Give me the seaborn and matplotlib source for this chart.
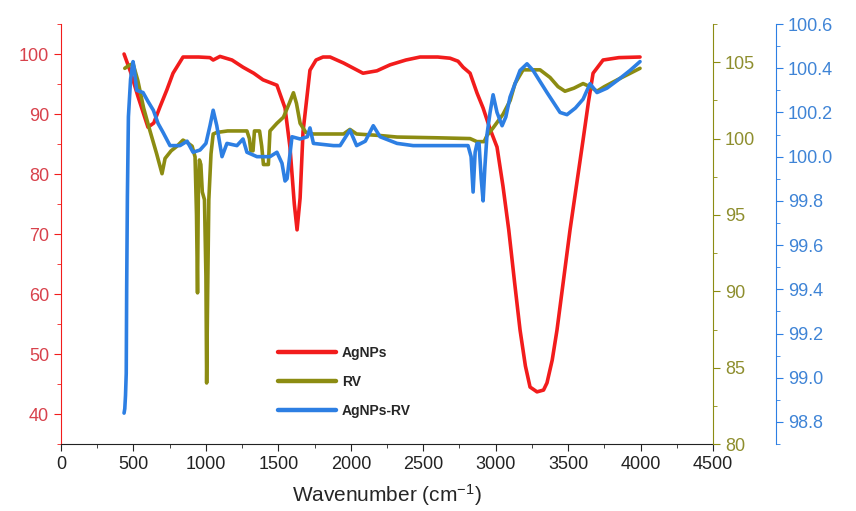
import numpy as np
import pandas as pd
import matplotlib
matplotlib.use("Agg")
import matplotlib.pyplot as plt
from matplotlib.ticker import MultipleLocator
from matplotlib.lines import Line2D
import seaborn as sns

# FTIR spectra (wavenumber in cm-1, transmittance %)
agnps_wn = [435, 480, 530, 600, 640, 683, 730, 773, 842, 950, 1028, 1050, 1097, 1180, 1256,
            1330, 1394, 1490, 1546, 1580, 1610, 1629, 1650, 1670, 1718, 1760, 1808, 1857,
            1950, 2084, 2180, 2271, 2380, 2478, 2600, 2685, 2740, 2775, 2823, 2871, 2913,
            2961, 3009, 3050, 3090, 3130, 3168, 3205, 3237, 3285, 3330, 3354, 3390, 3423,
            3513, 3603, 3640, 3672, 3741, 3850, 3996]
agnps_t = [100, 97, 93, 87.8, 88.5, 91.2, 94, 96.8, 99.5, 99.5, 99.4, 99.0, 99.6, 99.0, 97.8,
           96.8, 95.7, 94.8, 91, 84.5, 75, 70.7, 76, 87, 97.3, 99.0, 99.5, 99.5,
           98.5, 96.8, 97.2, 98.2, 99.0, 99.5, 99.5, 99.3, 98.8, 97.8, 96.8, 93.5, 91,
           87.5, 84.5, 78, 70.7, 62, 54, 48, 44.5, 43.7, 44, 45.2, 49, 54,
           70.7, 85.7, 92, 96.8, 99.0, 99.4, 99.5]

rv_wn = [440, 470, 497, 530, 570, 614, 660, 697, 718, 760, 800, 842, 877, 905, 925, 935, 942,
         948, 955, 965, 975, 990, 1000, 1005, 1012, 1020, 1035, 1050, 1075, 1150, 1283, 1300,
         1310, 1325, 1335, 1370, 1385, 1397, 1431, 1442, 1490, 1535, 1575, 1604, 1625, 1650,
         1690, 1742, 1857, 1950, 1994, 2040, 2202, 2319, 2600, 2823, 2870, 2920, 2940, 2982,
         3051, 3100, 3133, 3189, 3306, 3375, 3430, 3478, 3540, 3603, 3650, 3699, 3750, 3850,
         3996]
rv_t = [104.6, 104.8, 104.9, 103.8, 102, 100.5, 99, 97.7, 98.7, 99.2, 99.5, 99.9, 99.7, 99.5,
        98.8, 95, 89.9, 97, 98.6, 98.3, 96.5, 96, 91, 84.0, 90, 96, 99, 100.3, 100.4, 100.5,
        100.5, 100, 99.2, 99.2, 100.5, 100.5, 99.5, 98.3, 98.3, 100.5, 101, 101.4, 102.3,
        103, 102.3, 101, 100.4, 100.3, 100.3, 100.3, 100.6, 100.3, 100.2, 100.1, 100.05,
        100.0, 99.8, 99.8, 100.2, 100.7, 101.6, 102.5, 103.6, 104.5, 104.5, 104, 103.4,
        103.1, 103.3, 103.6, 103.4, 103.1, 103.4, 103.9, 104.6]

mix_wn = [435, 440, 445, 450, 453, 458, 465, 480, 497, 505, 522, 566, 600, 637, 670, 704, 752,
          821, 870, 911, 959, 1000, 1028, 1050, 1075, 1111, 1145, 1214, 1256, 1283, 1352,
          1442, 1490, 1525, 1546, 1560, 1594, 1650, 1700, 1718, 1742, 1880, 1926, 1994, 2040,
          2100, 2155, 2202, 2319, 2430, 2809, 2830, 2844, 2858, 2871, 2885, 2900, 2913, 2925,
          2940, 2961, 2982, 3009, 3044, 3070, 3099, 3168, 3216, 3258, 3354, 3444, 3492, 3550,
          3603, 3651, 3699, 3768, 3850, 3927, 3996]
mix_t = [98.84, 98.86, 98.92, 99.02, 99.4, 99.82, 100.18, 100.35, 100.43, 100.4, 100.3, 100.29,
         100.25, 100.21, 100.15, 100.11, 100.05, 100.05, 100.07, 100.02, 100.03, 100.06, 100.14,
         100.21, 100.14, 100.0, 100.06, 100.05, 100.08, 100.02, 100.0, 100.0, 100.02, 99.97,
         99.89, 99.9, 100.09, 100.08, 100.09, 100.13, 100.06, 100.05, 100.05, 100.12, 100.05,
         100.07, 100.14, 100.09, 100.06, 100.05, 100.05, 100.0, 99.84, 100.02, 100.06, 100.06,
         99.9, 99.8, 99.95, 100.1, 100.2, 100.28, 100.2, 100.14, 100.18, 100.27, 100.39, 100.42,
         100.39, 100.29, 100.2, 100.19, 100.22, 100.26, 100.33, 100.29, 100.31, 100.35, 100.39,
         100.43]

labels = ["AgNPs", "RV", "AgNPs-RV"]

red = "#f21c1c"
olive = "#8c8c12"
blue = "#2d7fe3"
red_lab = "#d8424c"
olive_lab = "#8e8e2e"
blue_lab = "#3f84d6"

sns.set_style("ticks")
plt.rcParams["font.family"] = ["Liberation Sans", "DejaVu Sans"]
plt.rcParams["xtick.major.size"] = 5
plt.rcParams["ytick.major.size"] = 5
plt.rcParams["xtick.minor.size"] = 3
plt.rcParams["ytick.minor.size"] = 3

fig = plt.figure(figsize=(8.56, 5.11), dpi=100)
ax = fig.add_axes([0.0713, 0.131, 0.7617, 0.822])
ax2 = ax.twinx()
ax3 = ax.twinx()

lw = 2.6
sns.lineplot(x=agnps_wn, y=agnps_t, ax=ax, color=red, lw=lw, sort=False, estimator=None)
sns.lineplot(x=rv_wn, y=rv_t, ax=ax2, color=olive, lw=lw, sort=False, estimator=None)
sns.lineplot(x=mix_wn, y=mix_t, ax=ax3, color=blue, lw=lw, sort=False, estimator=None)

ax.set_xlim(0, 4500)
ax.set_ylim(35, 105)
ax2.set_ylim(80, 107.5)
ax3.set_ylim(98.7, 100.6)

ax.xaxis.set_major_locator(MultipleLocator(500))
ax.xaxis.set_minor_locator(MultipleLocator(250))
ax.yaxis.set_major_locator(MultipleLocator(10))
ax.yaxis.set_minor_locator(MultipleLocator(5))
ax2.yaxis.set_major_locator(MultipleLocator(5))
ax2.yaxis.set_minor_locator(MultipleLocator(2.5))
ax3.yaxis.set_major_locator(MultipleLocator(0.2))
ax3.yaxis.set_minor_locator(MultipleLocator(0.1))
ax3.yaxis.set_major_formatter(plt.FormatStrFormatter("%.1f"))

# spines
ax.spines["top"].set_visible(False)
ax.spines["right"].set_visible(False)
ax.spines["left"].set_color(red)
ax.spines["bottom"].set_color("#222222")
for a in (ax2, ax3):
    for s in ("top", "left", "bottom"):
        a.spines[s].set_visible(False)
ax2.spines["right"].set_color(olive)
ax3.spines["right"].set_color(blue)
ax3.spines["right"].set_position(("axes", 1.0966))

ax.tick_params(axis="y", which="both", colors=red, labelcolor=red_lab, labelsize=13)
ax.tick_params(axis="x", which="both", colors="#222222", labelsize=13)
ax2.tick_params(axis="y", which="both", colors=olive, labelcolor=olive_lab, labelsize=13)
ax3.tick_params(axis="y", which="both", colors=blue, labelcolor=blue_lab, labelsize=13)

ax.set_ylabel("")
ax2.set_ylabel("")
ax3.set_ylabel("")
ax.set_xlabel(r"Wavenumber (cm$\mathregular{^{-1}}$)", fontsize=15, labelpad=7)

handles = [Line2D([], [], color=c, lw=3.2) for c in (red, olive, blue)]
fig.legend(handles, labels, loc="upper left", bbox_to_anchor=(278 / 856, 1 - 346 / 511),
           frameon=False, borderpad=0, borderaxespad=0, handlelength=4.2,
           handletextpad=0.4, labelspacing=1.07, prop={"size": 10, "weight": "bold"})

fig.savefig("out.png", dpi=100)
